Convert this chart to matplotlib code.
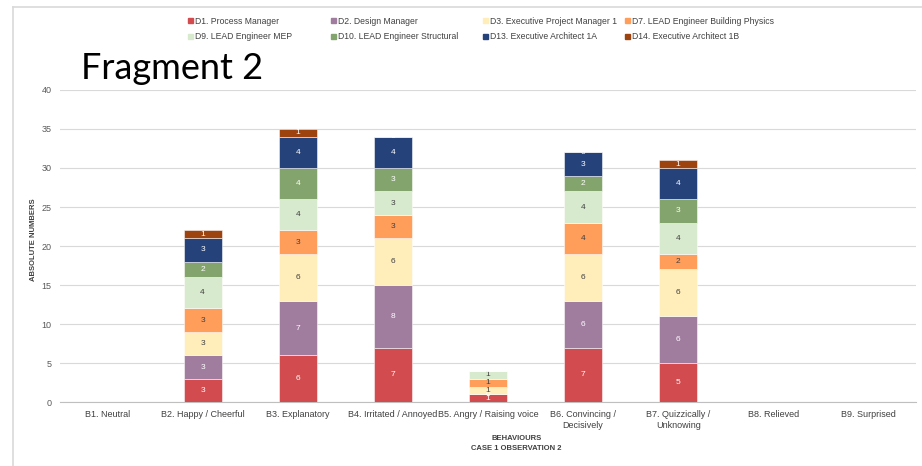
import matplotlib.pyplot as plt
from matplotlib.lines import Line2D
import numpy as np

plt.rcParams['font.family'] = ['Liberation Sans', 'DejaVu Sans']

behaviours = ["B1. Neutral", "B2. Happy / Cheerful", "B3. Explanatory",
              "B4. Irritated / Annoyed", "B5. Angry / Raising voice",
              "B6. Convincing /\nDecisively", "B7. Quizzically /\nUnknowing",
              "B8. Relieved", "B9. Surprised"]

nan = np.nan
# counts per participant, one value per behaviour (nan = no entry)
d1 = [nan, 3, 6, 7, 1, 7, 5, nan, nan]
d2 = [nan, 3, 7, 8, 0, 6, 6, nan, nan]
d3 = [nan, 3, 6, 6, 1, 6, 6, nan, nan]
d7 = [nan, 3, 3, 3, 1, 4, 2, nan, nan]
d9 = [nan, 4, 4, 3, 1, 4, 4, nan, nan]
d10 = [nan, 2, 4, 3, 0, 2, 3, nan, nan]
d13 = [nan, 3, 4, 4, 0, 3, 4, nan, nan]
d14 = [nan, 1, 1, 0, 0, 0, 1, nan, nan]

names = ["D1. Process Manager", "D2. Design Manager", "D3. Executive Project Manager 1",
         "D7. LEAD Engineer Building Physics", "D9. LEAD Engineer MEP",
         "D10. LEAD Engineer Structural", "D13. Executive Architect 1A",
         "D14. Executive Architect 1B"]
series = [d1, d2, d3, d7, d9, d10, d13, d14]
colors = ["#D24B4F", "#A07C9E", "#FFEDBA", "#FF9E5B", "#D8EACE", "#84A46D", "#25427A", "#9C430F"]
text_colors = ["white", "white", "#404040", "#404040", "#404040", "white", "white", "white"]

fig = plt.figure(figsize=(9.22, 4.66), dpi=100)
ax = fig.add_axes([0.065, 0.137, 0.9285, 0.67])

x = np.arange(len(behaviours))
bottom = np.zeros(len(behaviours))
for vals, col, tcol in zip(series, colors, text_colors):
    v = np.array(vals, dtype=float)
    h = np.nan_to_num(v)
    ax.bar(x, h, 0.4, bottom=bottom, color=col, edgecolor=(1, 1, 1, 0.6),
           linewidth=0.6, zorder=3)
    for xi, val, b in zip(x, v, bottom):
        if not np.isnan(val):
            ax.text(xi, b + val / 2, "%d" % val, ha="center", va="center",
                    fontsize=6, color=tcol, zorder=4)
    bottom += h

ax.set_xlim(-0.5, len(behaviours) - 0.5)
ax.set_ylim(0, 40)
ax.set_yticks(range(0, 41, 5))
ax.set_xticks(x)
ax.set_xticklabels(behaviours, fontsize=6.5, color="#404040")
ax.tick_params(axis="y", labelsize=6.5, labelcolor="#595959", length=0, pad=6)
ax.tick_params(axis="x", length=0, pad=6)
ax.grid(axis="y", color="#D9D9D9", linewidth=0.8, zorder=0)
for s in ["top", "right", "left"]:
    ax.spines[s].set_visible(False)
ax.spines["bottom"].set_color("#BFBFBF")

title_font = ["Liberation Sans Narrow", "Liberation Sans", "DejaVu Sans"]
ax.set_ylabel("ABSOLUTE NUMBERS", fontsize=5.5, fontweight="bold", color="#404040",
              family=title_font)
ax.yaxis.set_label_coords(-0.027, 0.52)
ax.set_xlabel("BEHAVIOURS\nCASE 1 OBSERVATION 2", fontsize=5.5, fontweight="bold",
              color="#404040", linespacing=1.7, family=title_font)
ax.xaxis.set_label_coords(0.533, -0.104)
ax.xaxis.label.set_va("top")

# legend: four equal-width columns, two rows, filled row by row
handles = [plt.Rectangle((0, 0), 1, 1, color=c) for c in colors]
col_x = [0.204, 0.359, 0.524, 0.678]
for i, cx in enumerate(col_x):
    fig.legend([handles[i], handles[i + 4]], [names[i], names[i + 4]],
               loc="upper left", bbox_to_anchor=(cx, 0.964), ncol=1,
               frameon=False, fontsize=6.2, handlelength=0.55, handleheight=0.55,
               handletextpad=0.25, labelspacing=0.75, borderpad=0, borderaxespad=0,
               labelcolor="#404040")

fig.text(0.088, 0.83, "Fragment 2", fontsize=26, family="Lato", color="black")

# outer frame of the chart area
fig.add_artist(Line2D([0.014, 1.0], [0.985, 0.985], color="#D9D9D9", linewidth=1.2))
fig.add_artist(Line2D([0.014, 0.014], [0.0, 0.985], color="#D9D9D9", linewidth=1.2))

plt.savefig("out.png", dpi=100)
